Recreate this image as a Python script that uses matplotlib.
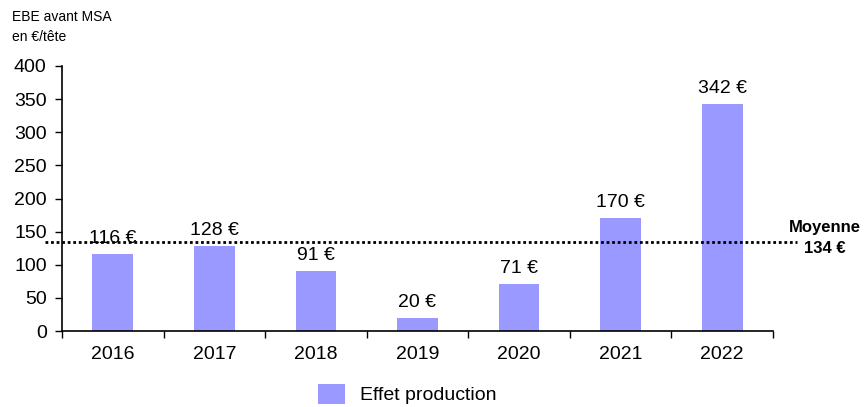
import matplotlib
matplotlib.use("Agg")
import matplotlib.pyplot as plt
from matplotlib import font_manager
import numpy as np

years = ["2016", "2017", "2018", "2019", "2020", "2021", "2022"]
values = [116, 128, 91, 20, 71, 170, 342]
mean_value = 134
series_name = "Effet production"
ylabel = "EBE avant MSA\nen €/tête"
yticks = [0, 50, 100, 150, 200, 250, 300, 350, 400]

plt.rcParams['font.family'] = ['Liberation Sans', 'DejaVu Sans']

W, H = 864, 407
fig = plt.figure(figsize=(W / 100, H / 100), dpi=100)
ax = fig.add_axes([62 / W, (H - 331) / H, (773 - 62) / W, (331 - 66) / H])

x = np.arange(len(years))
bars = ax.bar(x, values, width=0.4, color="#9999FF", label=series_name, zorder=2)

ax.set_xlim(-0.5, len(years) - 0.5)
ax.set_ylim(0, 400)
ax.set_yticks(yticks)
ax.set_yticklabels([str(t) for t in yticks], fontsize=14)
ax.set_xticks(x)
ax.set_xticklabels(years, fontsize=14)
ax.set_xticks(np.arange(-0.5, len(years)), minor=True)
ax.tick_params(axis='x', which='major', length=0, pad=11)
ax.tick_params(axis='x', which='minor', length=5, width=1, direction='out')
ax.tick_params(axis='y', length=5, width=1, direction='out', pad=6)
for s in ['top', 'right']:
    ax.spines[s].set_visible(False)
for s in ['left', 'bottom']:
    ax.spines[s].set_linewidth(1.2)

for xi, v in zip(x, values):
    ax.annotate(f"{v} €", (xi, v), xytext=(0, 5), textcoords="offset points",
                ha="center", va="bottom", fontsize=14, zorder=3)

ax.plot([-0.667, 6.736], [mean_value, mean_value], linestyle=(0, (1, 1.0)),
        color="black", linewidth=2, clip_on=False, zorder=4)
ax.annotate(f"Moyenne\n{mean_value} €", xy=(1.0, mean_value), xycoords=('axes fraction', 'data'),
            xytext=(37, 3), textcoords='offset points', ha='center', va='center',
            fontsize=12, fontweight='bold', annotation_clip=False, linespacing=1.45)

fig.text(12 / W, 1 - 10 / H, ylabel, ha='left', va='top', fontsize=10, linespacing=1.55)

fig.legend(handles=[bars], labels=[series_name], loc='center', bbox_to_anchor=(407 / W, 1 - 394 / H),
           frameon=False, fontsize=14, handlelength=1.4, handleheight=1.2, handletextpad=0.75)

fig.savefig("out.png", dpi=100)
